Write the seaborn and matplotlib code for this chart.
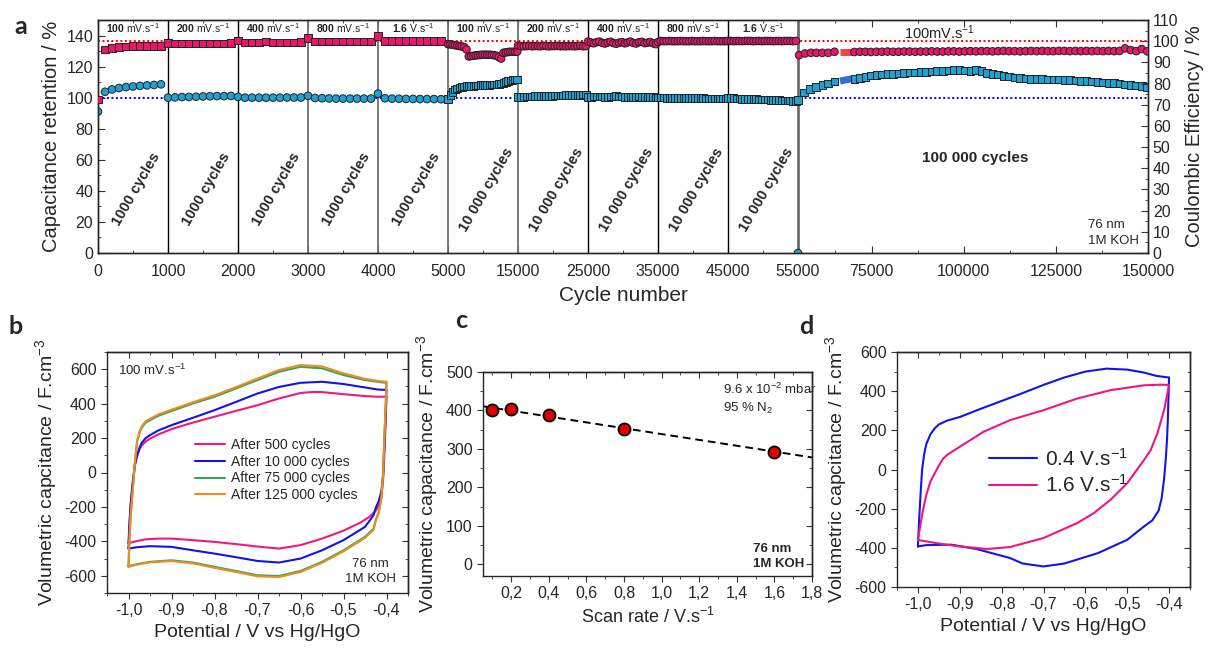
import numpy as np
import pandas as pd
import matplotlib
matplotlib.use("Agg")
import matplotlib.pyplot as plt
import seaborn as sns
from matplotlib.ticker import FuncFormatter, NullFormatter

# ---------------------------------------------------------------- data (panel a)
# cycles 0..4900 every 100 (five 1000-cycle segments)
X_SEG1_5 = np.arange(0, 5000, 100)
CE_SEG1_5 = [72.5, 96.1, 96.8, 97.2, 97.5, 97.6, 97.7, 97.7, 97.8, 97.8,
             99.0, 98.9, 98.9, 98.9, 98.9, 98.9, 98.9, 98.9, 98.9, 99.0,
             100.3, 99.4, 99.4, 99.4, 99.9, 99.4, 99.4, 99.4, 99.4, 99.5,
             101.4, 99.9, 99.9, 99.9, 99.9, 99.9, 99.9, 99.9, 99.9, 99.9,
             102.5, 100.2, 100.2, 100.2, 100.2, 100.2, 100.2, 100.2, 100.2, 100.2]
RET_SEG1_5 = [91.0, 103.8, 105.3, 106.2, 106.8, 107.2, 107.6, 107.9, 108.2, 108.6,
              100.0, 100.2, 100.4, 100.5, 100.6, 100.8, 100.9, 101.0, 101.0, 101.1,
              100.5, 100.0, 100.0, 100.0, 100.0, 100.0, 100.0, 100.1, 100.1, 100.1,
              101.2, 99.8, 99.6, 99.5, 99.4, 99.4, 99.4, 99.4, 99.4, 99.4,
              102.6, 99.6, 99.4, 99.3, 99.2, 99.2, 99.1, 99.1, 99.1, 99.0]

# 5000-15000
X_SEG6 = np.linspace(5000, 14900, 31)
CE_SEG6 = [98.6, 98.5, 98.3, 98.1, 97.9, 97.7, 97.5, 97.2, 96.1, 92.8, 93.0, 93.1, 93.3,
           93.4, 93.5, 93.6, 93.6, 93.6, 93.6, 93.5, 93.4, 93.1, 92.5, 91.8, 94.5, 94.7,
           94.9, 95.0, 95.0, 95.0, 95.1]
RET_SEG6 = [99.3, 101.8, 103.8, 105.2, 106.0, 106.5, 106.9, 107.2, 107.4, 107.5, 107.6,
            107.7, 107.8, 107.9, 108.0, 108.0, 108.1, 108.2, 108.3, 108.4, 108.5, 108.6,
            108.8, 109.0, 109.6, 110.2, 110.7, 111.1, 111.4, 111.6, 111.7]

# 15000-55000, four 10000-cycle segments
X_SEG7 = np.linspace(15000, 24700, 25)
X_SEG8 = np.linspace(25000, 34700, 25)
X_SEG9 = np.linspace(35000, 44700, 25)
X_SEG10 = np.linspace(45000, 54700, 25)
CE_SEG7 = [97.9, 97.7, 97.6, 97.7, 97.8, 97.6, 97.7, 97.7, 97.6, 97.8, 97.7, 97.6, 97.7,
           97.7, 97.8, 97.6, 97.7, 97.6, 97.7, 97.7, 97.6, 97.7, 97.8, 97.6, 97.7]
RET_SEG7 = [100.4, 100.5, 100.6, 100.7, 100.7, 100.8, 100.9, 100.9, 101.0, 101.0, 101.1,
            101.2, 101.2, 101.3, 101.4, 101.4, 101.5, 101.6, 101.6, 101.7, 101.8, 101.8,
            101.9, 102.0, 102.1]
CE_SEG8 = [99.8, 99.4, 99.0, 99.5, 99.8, 99.2, 98.9, 99.4, 99.7, 99.1, 98.8, 99.3, 99.6,
           99.0, 99.4, 99.8, 99.2, 98.9, 99.5, 99.7, 99.1, 99.3, 99.6, 99.0, 98.6]
RET_SEG8 = [100.4, 100.6, 100.7, 100.8, 100.8, 100.7, 100.6, 100.6, 100.7, 100.8, 100.9,
            100.8, 100.7, 100.6, 100.6, 100.5, 100.5, 100.6, 100.7, 100.6, 100.5, 100.4,
            100.3, 100.3, 100.2]
CE_SEG9 = [99.6, 100.1, 100.0, 100.0, 100.1, 100.0, 100.0, 100.0, 100.1, 100.0, 100.0,
           100.0, 100.1, 100.0, 100.0, 100.0, 100.1, 100.0, 100.0, 100.0, 100.1, 100.0,
           100.0, 100.0, 100.0]
RET_SEG9 = [100.1, 100.0, 100.0, 99.9, 99.9, 99.9, 99.8, 99.8, 99.8, 99.7, 99.7, 99.7,
            99.7, 99.6, 99.6, 99.6, 99.6, 99.5, 99.5, 99.5, 99.5, 99.5, 99.4, 99.4, 99.4]
CE_SEG10 = [100.1, 100.1, 100.0, 100.1, 100.1, 100.0, 100.1, 100.1, 100.1, 100.0, 100.1,
            100.1, 100.0, 100.1, 100.1, 100.1, 100.0, 100.1, 100.1, 100.0, 100.1, 100.1,
            100.1, 100.0, 100.1]
RET_SEG10 = [99.7, 99.6, 99.6, 99.5, 99.4, 99.3, 99.3, 99.2, 99.1, 99.0, 99.0, 98.9, 98.8,
             98.7, 98.7, 98.6, 98.5, 98.4, 98.4, 98.3, 98.2, 98.2, 98.1, 98.0, 97.9]
X_END10 = [55000, 55000]
RET_END10 = [98.5, 0.0]

# 55000-150000 (100 000 cycles)
X_CE_SEG11A = [55300, 56900, 58500, 60000, 61600, 63200, 64900]
CE_SEG11A = [93.4, 94.2, 94.5, 94.5, 94.5, 94.5, 95.0]
X_RET_SEG11A = [56700, 58300, 59900, 61600, 63200, 64900]
RET_SEG11A = [103.2, 105.4, 106.9, 108.1, 109.2, 110.3]
X_BAR = [66400, 69600]
CE_BAR = [94.8, 94.8]
RET_BAR = [110.7, 112.2]
X_SEG11B = np.arange(70300, 150000, 1500)
CE_SEG11B = [94.9, 95.0, 95.0, 94.9, 95.0, 95.0, 95.1, 95.0, 95.0, 95.1, 95.1,
             95.0, 95.1, 95.1, 95.2, 95.1, 95.1, 95.2, 95.2, 95.1, 95.2,
             95.3, 95.2, 95.3, 95.3, 95.2, 95.3, 95.4, 95.3, 95.3, 95.2,
             95.3, 95.4, 95.3, 95.4, 95.3, 95.3, 95.4, 95.4, 95.3, 95.4,
             95.3, 95.4, 95.3, 95.4, 95.3, 95.4, 95.3, 95.4, 96.6, 95.8,
             95.3, 96.3, 95.2]
RET_SEG11B = [112.2, 112.8, 113.4, 114.2, 114.7, 115.0, 115.2, 115.4, 115.6, 115.8,
              116.1, 116.3, 116.5, 116.7, 116.9, 117.2, 117.0, 117.6, 117.8, 117.7,
              117.6, 117.3, 118.0, 117.3, 115.9, 115.2, 114.8, 114.1, 113.6, 113.0,
              112.6, 112.3, 112.2, 112.2, 112.0, 111.8, 111.8, 111.6, 111.4, 111.2,
              111.0, 110.8, 110.6, 110.4, 110.2, 109.8, 109.6, 109.3, 109.2, 108.6,
              108.1, 107.8, 107.5, 106.9]

SEG_BOUNDS = [0, 1000, 2000, 3000, 4000, 5000, 15000, 25000, 35000, 45000, 55000]
RATE_BOLD = ["100", "200", "400", "800", "1.6", "100", "200", "400", "800", "1.6"]
RATE_UNIT = ["mV.s", "mV.s", "mV.s", "mV.s", "V.s", "mV.s", "mV.s", "mV.s", "mV.s", "V.s"]
SEG_CYCLES = ["1000 cycles"] * 5 + ["10 000 cycles"] * 5
XTICKS_A = [0, 1000, 2000, 3000, 4000, 5000, 15000, 25000, 35000, 45000, 55000,
            75000, 100000, 125000, 150000]

# ---------------------------------------------------------------- data (panel b)
B_LABELS = ["After 500 cycles", "After 10 000 cycles", "After 75 000 cycles", "After 125 000 cycles"]
B500_V = [-1.0, -0.998, -0.995, -0.99, -0.985, -0.98, -0.975, -0.97, -0.96, -0.95, -0.93, -0.9,
          -0.85, -0.8, -0.75, -0.7, -0.65, -0.6, -0.57, -0.55, -0.5, -0.45, -0.42, -0.405,
          -0.4, -0.402, -0.405, -0.408, -0.412, -0.418, -0.425, -0.44, -0.46, -0.5, -0.55,
          -0.6, -0.65, -0.7, -0.75, -0.8, -0.85, -0.9, -0.93, -0.96, -0.98, -1.0]
B500_C = [-410, -300, -180, -60, 40, 95, 130, 155, 180, 197, 222, 252,
          290, 324, 358, 391, 430, 462, 468, 467, 455, 444, 440, 440,
          442, 300, 100, -50, -140, -190, -222, -258, -290, -338, -384,
          -422, -442, -430, -416, -403, -393, -384, -384, -388, -398, -410]
B10K_V = [-1.0, -0.998, -0.995, -0.99, -0.985, -0.98, -0.975, -0.97, -0.96, -0.95, -0.93, -0.9,
          -0.85, -0.8, -0.75, -0.7, -0.65, -0.6, -0.55, -0.5, -0.45, -0.42, -0.405,
          -0.4, -0.402, -0.405, -0.408, -0.412, -0.418, -0.425, -0.43, -0.45, -0.5, -0.55,
          -0.6, -0.65, -0.7, -0.75, -0.8, -0.85, -0.9, -0.95, -0.98, -1.0]
B10K_C = [-440, -320, -190, -50, 50, 100, 140, 170, 200, 217, 245, 275,
          318, 362, 410, 459, 497, 521, 527, 514, 494, 482, 480,
          482, 330, 150, -20, -110, -165, -205, -248, -316, -393, -452,
          -500, -523, -514, -492, -471, -452, -432, -428, -434, -442]
B75K_V = [-1.0, -0.998, -0.995, -0.99, -0.985, -0.98, -0.975, -0.97, -0.96, -0.95, -0.93, -0.9,
          -0.85, -0.8, -0.75, -0.7, -0.65, -0.6, -0.55, -0.5, -0.45, -0.42, -0.405,
          -0.4, -0.402, -0.405, -0.408, -0.412, -0.418, -0.425, -0.43, -0.45, -0.5, -0.55,
          -0.6, -0.65, -0.7, -0.75, -0.8, -0.85, -0.9, -0.95, -0.98, -1.0]
B75K_C = [-545, -400, -250, -100, 60, 178, 225, 258, 290, 304, 330, 357,
          401, 440, 488, 537, 585, 614, 605, 566, 537, 527, 522,
          522, 380, 200, -10, -150, -230, -275, -326, -374, -452, -519,
          -572, -601, -597, -572, -548, -523, -510, -519, -532, -545]
B125K_V = [-1.0, -0.998, -0.995, -0.99, -0.985, -0.98, -0.975, -0.97, -0.96, -0.95, -0.93, -0.9,
           -0.85, -0.8, -0.75, -0.7, -0.65, -0.6, -0.55, -0.5, -0.45, -0.42, -0.405,
           -0.4, -0.402, -0.405, -0.408, -0.412, -0.418, -0.425, -0.43, -0.45, -0.5, -0.55,
           -0.6, -0.65, -0.7, -0.75, -0.8, -0.85, -0.9, -0.95, -0.98, -1.0]
B125K_C = [-548, -400, -250, -100, 65, 185, 232, 266, 298, 312, 338, 365,
           408, 448, 496, 546, 595, 624, 616, 576, 544, 532, 528,
           528, 385, 205, -10, -155, -235, -280, -332, -380, -458, -525,
           -578, -607, -603, -578, -554, -528, -514, -522, -535, -548]

# ---------------------------------------------------------------- data (panel c)
C_RATE = [0.1, 0.2, 0.4, 0.8, 1.6]
C_CAP = [400, 405, 388, 352, 293]

# ---------------------------------------------------------------- data (panel d)
D_LABELS = ["0.4 V.s$^{-1}$", "1.6 V.s$^{-1}$"]
D04_V = [-1.0, -0.997, -0.993, -0.99, -0.985, -0.98, -0.97, -0.96, -0.95, -0.93, -0.9, -0.85,
         -0.8, -0.75, -0.7, -0.65, -0.6, -0.55, -0.5, -0.46, -0.43, -0.41, -0.4,
         -0.401, -0.403, -0.405, -0.408, -0.412, -0.418, -0.425, -0.44, -0.46, -0.5, -0.57,
         -0.65, -0.7, -0.75, -0.78, -0.86, -0.92, -0.98, -1.0]
D04_C = [-393, -250, -100, 0, 80, 130, 180, 210, 230, 250, 268, 310,
         350, 390, 432, 470, 500, 515, 510, 495, 478, 472, 470,
         400, 250, 150, 50, -50, -150, -210, -260, -291, -359, -427,
         -480, -495, -480, -452, -406, -384, -386, -393]
D16_V = [-1.0, -0.99, -0.98, -0.97, -0.95, -0.94, -0.93, -0.9, -0.843, -0.78, -0.7, -0.62,
         -0.54, -0.46, -0.42, -0.4,
         -0.412, -0.428, -0.444, -0.46, -0.5, -0.54, -0.58, -0.62, -0.7, -0.78, -0.835,
         -0.9, -0.95, -1.0]
D16_C = [-360, -230, -130, -60, 20, 55, 75, 116, 193, 252, 303, 362,
         405, 430, 433, 432,
         303, 184, 99, 48, -70, -155, -223, -274, -350, -396, -406,
         -393, -378, -360]

# ---------------------------------------------------------------- style
sns.set_style("ticks")
plt.rcParams["font.family"] = ["Liberation Sans", "DejaVu Sans"]
plt.rcParams["mathtext.fontset"] = "custom"
plt.rcParams["mathtext.rm"] = "Liberation Sans"
plt.rcParams["mathtext.it"] = "Liberation Sans:italic"
plt.rcParams["mathtext.bf"] = "Liberation Sans:bold"
plt.rcParams["axes.unicode_minus"] = False
plt.rcParams["axes.linewidth"] = 1.0

PINK = "#E8176A"
CYAN = "#1DA2D3"
EDGE = "#222222"
TICK_FS = 11.5
LAB_FS = 14

W, H = 1210, 648
fig = plt.figure(figsize=(W / 100, H / 100), dpi=100)


def rect(l, t, r, b):
    return [l / W, 1 - b / H, (r - l) / W, (b - t) / H]


def comma(v, p):
    return f"{v:.1f}".replace(".", ",")


def mirror(ax, xmaj, xmin, ymaj, ymin):
    sx = ax.secondary_xaxis("top")
    sx.set_xticks(xmaj)
    sx.set_xticks(xmin, minor=True)
    sx.xaxis.set_major_formatter(NullFormatter())
    sx.tick_params(which="both", direction="in", color="#333333")
    sx.tick_params(which="major", length=4)
    sx.tick_params(which="minor", length=2)
    sy = ax.secondary_yaxis("right")
    sy.set_yticks(ymaj)
    sy.set_yticks(ymin, minor=True)
    sy.yaxis.set_major_formatter(NullFormatter())
    sy.tick_params(which="both", direction="in", color="#333333")
    sy.tick_params(which="major", length=4)
    sy.tick_params(which="minor", length=2)


# ================================================================ panel a
axA = fig.add_axes(rect(98, 20, 1148, 253))
BRK_X = [0, 5000, 55000, 150000]
BRK_U = [0, 1, 2, 3]
axA.set_xscale("function", functions=(lambda x: np.interp(x, BRK_X, BRK_U),
                                      lambda u: np.interp(u, BRK_U, BRK_X)))
axA.set_xlim(0, 150000)
axA.set_ylim(0, 150)
axB = axA.twinx()
axB.set_ylim(0, 110)

# boundaries
for b in SEG_BOUNDS[1:]:
    if b in (3000, 4000, 5000, 15000):
        axA.axvline(b, color="#6e6e6e", lw=1.3, zorder=1)
    elif b == 55000:
        axA.axvline(b, color="#6e6e6e", lw=2.0, zorder=1)
    else:
        axA.axvline(b, color="black", lw=1.0, zorder=1)

axA.axhline(100, color="blue", lw=1.4, ls=(0, (1, 1.3)), zorder=1)
axB.axhline(100, color="red", lw=1.4, ls=(0, (1, 1.3)), zorder=1)

ret_x = np.concatenate([X_SEG1_5, X_SEG6, X_SEG7, X_SEG8, X_SEG9, X_SEG10, X_END10,
                        X_RET_SEG11A, X_SEG11B])
ret_y = np.concatenate([RET_SEG1_5, RET_SEG6, RET_SEG7, RET_SEG8, RET_SEG9, RET_SEG10,
                        RET_END10, RET_SEG11A, RET_SEG11B])
ce_x = np.concatenate([X_SEG1_5, X_SEG6, X_SEG7, X_SEG8, X_SEG9, X_SEG10,
                       X_CE_SEG11A, X_SEG11B])
ce_y = np.concatenate([CE_SEG1_5, CE_SEG6, CE_SEG7, CE_SEG8, CE_SEG9, CE_SEG10,
                       CE_SEG11A, CE_SEG11B])
df_ret = pd.DataFrame({"cycle": ret_x, "val": ret_y})
df_ret["shape"] = np.where(df_ret["cycle"] < 5000, "o", "s")
df_ret.loc[df_ret["val"] < 1, "shape"] = "o"
df_ce = pd.DataFrame({"cycle": ce_x, "val": ce_y})
df_ce["shape"] = np.where(df_ce["cycle"] < 5000, "s", "o")

sns.scatterplot(data=df_ret, x="cycle", y="val", style="shape", markers={"o": "o", "s": "s"},
                color=CYAN, edgecolor=EDGE, linewidth=0.7, s=30, legend=False, ax=axA, zorder=3)
sns.scatterplot(data=df_ce, x="cycle", y="val", style="shape", markers={"o": "o", "s": "s"},
                color=PINK, edgecolor=EDGE, linewidth=0.7, s=30, legend=False, ax=axB, zorder=3)
sns.lineplot(x=X_BAR, y=RET_BAR, color="#2E6FD8", lw=5, ax=axA, solid_capstyle="butt")
sns.lineplot(x=X_BAR, y=CE_BAR, color="#EE4444", lw=5, ax=axB, solid_capstyle="butt")

axA.set_xticks(XTICKS_A)
axA.set_xticks([500, 1500, 2500, 3500, 4500, 10000, 20000, 30000, 40000, 50000,
                65000, 87500, 112500, 137500], minor=True)
axA.xaxis.set_major_formatter(FuncFormatter(lambda v, p: f"{int(round(v))}"))
axA.set_yticks(np.arange(0, 141, 20))
axA.set_yticks(np.arange(10, 150, 10), minor=True)
axB.set_yticks(np.arange(0, 111, 10))
axB.set_yticks(np.arange(5, 110, 5), minor=True)
for ax in (axA, axB):
    ax.tick_params(which="both", direction="in", labelsize=TICK_FS, color="#333333")
    ax.tick_params(which="major", length=5)
    ax.tick_params(which="minor", length=2.5)
axA.tick_params(axis="x", which="both", top=True)
axA.tick_params(axis="x", which="major", pad=8)
axA.set_xlabel("Cycle number", fontsize=LAB_FS + 1, labelpad=5)
axA.set_ylabel("Capacitance retention / %", fontsize=LAB_FS + 0.5, labelpad=4)
axB.set_ylabel("Coulombic Efficiency / %", fontsize=LAB_FS + 0.5, labelpad=4)

for i in range(10):
    s0, s1 = SEG_BOUNDS[i], SEG_BOUNDS[i + 1]
    axA.text((s0 + s1) / 2, 144.5, r"$\mathbf{" + RATE_BOLD[i] + "}$ " + RATE_UNIT[i] + r"$^{-1}$",
             ha="center", va="center", fontsize=7.5, color="#222222")
    axA.text(s0 + 0.55 * (s1 - s0), 41, SEG_CYCLES[i], rotation=60, ha="center", va="center",
             fontsize=10.5, fontweight="bold")
axA.text(93500, 142, r"100mV.s$^{-1}$", ha="center", va="center", fontsize=10.5, color="#222222")
axA.text(103000, 61, "100 000 cycles", ha="center", va="center", fontsize=11, fontweight="bold")
axA.text(133700, 13, "76 nm\n1M KOH", ha="left", va="center", fontsize=9.5, linespacing=1.4)

# ================================================================ panel b
axb = fig.add_axes(rect(107, 352, 408, 593))
b_df = pd.concat([
    pd.DataFrame({"V": B500_V, "C": B500_C, "lab": B_LABELS[0]}),
    pd.DataFrame({"V": B10K_V, "C": B10K_C, "lab": B_LABELS[1]}),
    pd.DataFrame({"V": B75K_V, "C": B75K_C, "lab": B_LABELS[2]}),
    pd.DataFrame({"V": B125K_V, "C": B125K_C, "lab": B_LABELS[3]}),
])
sns.lineplot(data=b_df, x="V", y="C", hue="lab", sort=False, estimator=None,
             palette=["#F0187E", "#1414E0", "#35A852", "#F08A24"], lw=1.5, ax=axb)
sns.move_legend(axb, loc="center left", bbox_to_anchor=(0.25, 0.51), frameon=False, title=None,
                fontsize=10, handlelength=2.2, handletextpad=0.4, labelspacing=0.2)
axb.set_xlim(-1.05, -0.35)
axb.set_ylim(-700, 700)
bx = np.round(np.arange(-1.0, -0.39, 0.1), 2)
bxm = np.round(np.arange(-1.05, -0.34, 0.05), 3)
by = np.arange(-600, 601, 200)
bym = np.arange(-700, 701, 100)
axb.set_xticks(bx)
axb.set_xticks(bxm, minor=True)
axb.set_yticks(by)
axb.set_yticks(bym, minor=True)
axb.xaxis.set_major_formatter(FuncFormatter(comma))
axb.text(0.037, 0.955, r"100 mV.s$^{-1}$", transform=axb.transAxes, ha="left", va="top", fontsize=9.5)
axb.text(0.875, 0.035, "76 nm\n1M KOH", transform=axb.transAxes, ha="center", va="bottom",
         fontsize=9.5, linespacing=1.3)
axb.set_xlabel("Potential / V vs Hg/HgO", fontsize=LAB_FS)
axb.set_ylabel("Volumetric capcitance / F.cm$^{-3}$", fontsize=LAB_FS)
mirror(axb, bx, bxm, by, bym)

# ================================================================ panel c
axc = fig.add_axes(rect(483, 372, 812, 576))
slope, icpt = np.polyfit(C_RATE, C_CAP, 1)
fit_x = np.array([0.05, 1.8])
sns.lineplot(x=fit_x, y=icpt + slope * fit_x, color="black", lw=1.4, ax=axc,
             linestyle=(0, (4, 2.5)))
sns.scatterplot(x=C_RATE, y=C_CAP, color="#E00000", edgecolor="black", linewidth=1.3,
                s=75, ax=axc, zorder=3, legend=False)
axc.set_xlim(0.05, 1.8)
axc.set_ylim(-30, 500)
cx = np.round(np.arange(0.2, 1.81, 0.2), 2)
cxm = np.round(np.arange(0.1, 1.81, 0.1), 2)
cy = np.arange(0, 501, 100)
cym = np.arange(0, 501, 50)
axc.set_xticks(cx)
axc.set_xticks(cxm, minor=True)
axc.set_yticks(cy)
axc.set_yticks(cym, minor=True)
axc.xaxis.set_major_formatter(FuncFormatter(comma))
axc.text(0.73, 0.95, "9.6 x 10$^{-2}$ mbar\n95 % N$_2$", transform=axc.transAxes,
         ha="left", va="top", fontsize=9.5, linespacing=1.3)
axc.text(0.82, 0.03, "76 nm\n1M KOH", transform=axc.transAxes, ha="left", va="bottom",
         fontsize=9.5, fontweight="bold", linespacing=1.3)
axc.set_xlabel("Scan rate / V.s$^{-1}$", fontsize=LAB_FS - 1)
axc.set_ylabel("Volumetric capacitance / F.cm$^{-3}$", fontsize=LAB_FS)
mirror(axc, cx, cxm, cy, cym)

# ================================================================ panel d
axd = fig.add_axes(rect(897, 352, 1190, 587))
d_df = pd.concat([
    pd.DataFrame({"V": D04_V, "C": D04_C, "lab": D_LABELS[0]}),
    pd.DataFrame({"V": D16_V, "C": D16_C, "lab": D_LABELS[1]}),
])
sns.lineplot(data=d_df, x="V", y="C", hue="lab", sort=False, estimator=None,
             palette=["#1414E6", "#F0157F"], lw=1.5, ax=axd)
sns.move_legend(axd, loc="center left", bbox_to_anchor=(0.25, 0.49), frameon=False, title=None,
                fontsize=15, handlelength=2.3, handletextpad=0.4, labelspacing=0.2)
axd.set_xlim(-1.05, -0.35)
axd.set_ylim(-600, 600)
dym = np.arange(-600, 601, 100)
axd.set_xticks(bx)
axd.set_xticks(bxm, minor=True)
axd.set_yticks(by)
axd.set_yticks(dym, minor=True)
axd.xaxis.set_major_formatter(FuncFormatter(comma))
axd.set_xlabel("Potential / V vs Hg/HgO", fontsize=LAB_FS)
axd.set_ylabel("Volumetric capcitance / F.cm$^{-3}$", fontsize=LAB_FS)
mirror(axd, bx, bxm, by, dym)

for ax in (axb, axc, axd):
    ax.tick_params(which="both", direction="out", labelsize=TICK_FS, color="#333333")
    ax.tick_params(which="major", length=4)
    ax.tick_params(which="minor", length=2)

# panel letters
for lab, (px, py) in {"a": (21, 27), "b": (16, 327), "c": (461, 321), "d": (806, 327)}.items():
    fig.text(px / W, 1 - py / H, lab, ha="center", va="center", fontsize=18,
             fontweight="bold", family=["Lato", "DejaVu Sans"])

fig.savefig("out.png", dpi=100)
